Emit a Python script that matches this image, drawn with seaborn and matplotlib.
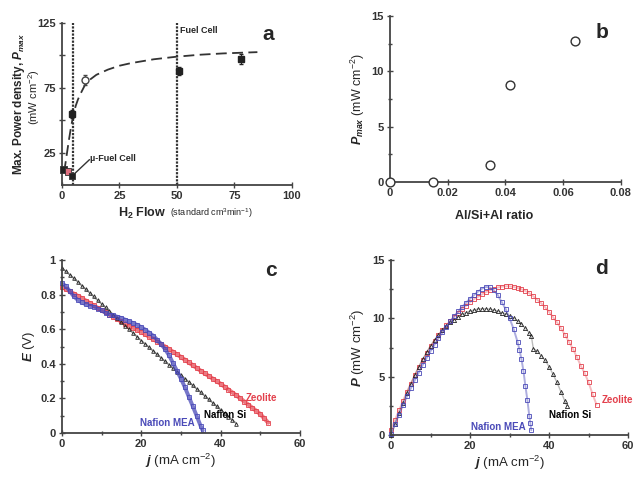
import numpy as np
import pandas as pd
import seaborn as sns
import matplotlib.pyplot as plt

sns.set_style('ticks')
plt.rcParams['font.family'] = ['Liberation Sans', 'DejaVu Sans']
plt.rcParams['mathtext.fontset'] = 'custom'
plt.rcParams['mathtext.rm'] = 'Liberation Sans'
plt.rcParams['mathtext.it'] = 'Liberation Sans:italic:bold'
plt.rcParams['mathtext.bf'] = 'Liberation Sans:bold'

RED = '#e3404c'
BLUE = '#4a4ab8'
BLACK = '#222222'

# --- panel a: max power density vs H2 flow
fit_flow = [1, 2, 3, 4, 5, 6, 7, 8, 10, 12, 15, 20, 25, 30, 40, 50, 60, 70, 85]
fit_pmax = [10, 22, 34, 45, 54, 61, 66, 70, 77, 81, 85, 89, 92, 94, 97, 99, 100.5, 101.5, 102.5]
fc_flow = [4.6, 50.9, 77.7]
fc_pmax = [55, 88, 97]
fc_err = [3, 3, 4]
open_flow = [10]
open_pmax = [81]
open_err = [4]
micro_flow = [0.6, 2.7, 4.4]
micro_pmax = [11.8, 10.5, 6.8]
micro_colors = [BLACK, '#e07080', BLACK]
leader_flow = [0.6, 4.4, 12]
leader_pmax = [11.8, 6.8, 19.5]
marker_lines = [5, 50]

# --- panel b: Pmax vs Al/(Si+Al)
al_ratio = [0.0, 0.0148, 0.0346, 0.0418, 0.0641]
pmax_b = [0.0, 0.0, 1.5, 8.8, 12.77]

# --- panel c: polarisation curves E(j)
j_si = list(range(0, 45))
E_si = [.955, .935, .915, .895, .875, .853, .832, .811, .79, .768, .747, .726, .705, .684, .663,
        .641, .62, .599, .578, .556, .535, .515, .495, .475, .455, .435, .415, .395, .375, .355,
        .335, .315, .295, .275, .255, .235, .215, .195, .175, .155, .135, .115, .095, .075, .055]
j_mea = list(range(0, 36)) + [35.5]
E_mea = [.865, .85, .82, .79, .77, .755, .745, .735, .73, .72, .71, .695, .685, .68, .672, .665,
         .655, .645, .635, .625, .612, .598, .58, .563, .54, .515, .485, .45, .405, .36, .315,
         .265, .21, .155, .098, .04, .015]
j_zeo = list(range(0, 53))
E_zeo = [.845, .832, .819, .806, .793, .78, .766, .752, .738, .724, .71, .697, .684, .671, .658,
         .645, .633, .621, .609, .597, .585, .571, .557, .543, .529, .515, .5, .485, .47, .455,
         .44, .424, .408, .392, .376, .36, .345, .33, .315, .3, .285, .268, .251, .234, .217, .2,
         .182, .164, .146, .128, .11, .085, .06]

# --- panel d: power curves P(j)
jd_si = list(range(0, 36)) + [35.5, 36, 37, 38, 39, 40, 41, 42, 43, 44, 44.5]
P_si = [0, .95, 1.85, 2.75, 3.6, 4.4, 5.15, 5.85, 6.5, 7.1, 7.65, 8.15, 8.6, 9.0, 9.35, 9.65,
        9.9, 10.15, 10.35, 10.5, 10.62, 10.72, 10.8, 10.82, 10.82, 10.78, 10.72, 10.62, 10.5,
        10.38, 10.22, 10.05, 9.8, 9.5, 9.15, 8.75, 8.5, 7.4, 7.2, 6.8, 6.4, 5.85, 5.2, 4.5,
        3.7, 2.9, 2.5]
jd_mea = list(range(0, 33)) + [32.5, 33, 33.5, 34, 34.5, 35, 35.25, 35.5]
P_mea = [.1, .9, 1.75, 2.55, 3.3, 4.0, 4.7, 5.35, 6.0, 6.6, 7.2, 7.75, 8.3, 8.8, 9.3, 9.75,
         10.2, 10.6, 11.0, 11.35, 11.7, 12.0, 12.3, 12.55, 12.7, 12.65, 12.4, 12.0, 11.4, 10.8,
         10.0, 9.1, 8.0, 7.3, 6.5, 5.5, 4.2, 3.0, 1.6, 1.0, 0.4]
jd_zeo = list(range(0, 53))
P_zeo = [.45, 1.3, 2.1, 2.9, 3.7, 4.4, 5.1, 5.8, 6.4, 7.0, 7.6, 8.1, 8.6, 9.0, 9.4, 9.8, 10.15,
         10.5, 10.8, 11.1, 11.4, 11.65, 11.85, 12.05, 12.25, 12.4, 12.55, 12.65, 12.72, 12.75,
         12.75, 12.7, 12.6, 12.5, 12.35, 12.15, 11.9, 11.6, 11.3, 10.95, 10.55, 10.1, 9.65,
         9.15, 8.6, 8.0, 7.4, 6.7, 5.95, 5.3, 4.5, 3.5, 2.6]

fig = plt.figure(figsize=(6.38, 4.79), dpi=100)
ax_a = fig.add_axes([0.097, 0.614, 0.3605, 0.338])
ax_b = fig.add_axes([0.611, 0.620, 0.362, 0.3466])
ax_c = fig.add_axes([0.097, 0.096, 0.373, 0.361])
ax_d = fig.add_axes([0.613, 0.092, 0.3715, 0.365])


def style_axes(ax):
    sns.despine(ax=ax)
    for s in ['left', 'bottom']:
        ax.spines[s].set_color('#444444')
        ax.spines[s].set_linewidth(1.3)
    ax.tick_params(which='both', direction='inout', color='#444444', labelsize=8,
                   width=1, pad=2)
    ax.tick_params(which='major', length=5)
    ax.tick_params(which='minor', length=3)
    for lab in ax.get_xticklabels() + ax.get_yticklabels():
        lab.set_fontweight('bold')
        lab.set_color('#333333')


def curve(ax, x, y, color, marker, lw, ms, alpha):
    # a soft band under the open markers, like the densely sampled original
    sns.lineplot(x=x, y=y, ax=ax, color=color, linewidth=lw, alpha=alpha,
                 sort=False, estimator=None)
    sns.lineplot(x=x, y=y, ax=ax, color=color, marker=marker, linewidth=0,
                 markersize=ms, markerfacecolor='none', markeredgecolor=color,
                 markeredgewidth=0.6, sort=False, estimator=None, clip_on=False)


# panel a
for xv in marker_lines:
    ax_a.axvline(xv, color='#333333', lw=1.6, ls=(0, (1, 0.6)), zorder=1)
sns.lineplot(x=fit_flow, y=fit_pmax, ax=ax_a, color='#333333', lw=1.3,
             linestyle=(0, (6, 3)), sort=False, estimator=None)
sns.lineplot(x=leader_flow, y=leader_pmax, ax=ax_a, color='#333333', lw=1.0,
             sort=False, estimator=None)
ax_a.errorbar(fc_flow, fc_pmax, yerr=fc_err, fmt='s', color='#222222', ms=4.5,
              capsize=1.5, elinewidth=0.8, zorder=4)
ax_a.errorbar(open_flow, open_pmax, yerr=open_err, fmt='o', color='#444444', mfc='white',
              ms=5, capsize=1.5, elinewidth=0.8, zorder=4)
sns.scatterplot(x=micro_flow, y=micro_pmax, ax=ax_a, marker='s', s=22,
                color=micro_colors, edgecolor='#333333', linewidth=0.6, zorder=5, clip_on=False)
ax_a.text(51.5, 119, 'Fuel Cell', fontsize=6.5, fontweight='bold', va='center')
ax_a.text(12.3, 20, '\u00b5-Fuel Cell', fontsize=6.5, fontweight='bold', va='center')
ax_a.set_xlim(0, 100)
ax_a.set_ylim(0, 125)
ax_a.set_xticks([0, 25, 50, 75, 100])
ax_a.set_yticks([25, 50, 75, 100, 125])
ax_a.set_yticklabels(['25', '', '75', '', '125'])
ax_a.set_xlabel('')
ax_a.set_ylabel('')
ax_a.text(-0.185, 0.5, r'Max. Power density, $\mathit{P}_{\mathit{max}}$', transform=ax_a.transAxes,
          rotation=90, ha='center', va='center', fontsize=8.5, fontweight='bold')
ax_a.text(-0.12, 0.54, r'(mW cm$^{-2}$)', transform=ax_a.transAxes,
          rotation=90, ha='center', va='center', fontsize=8)
ax_a.text(0.455, -0.175, r'H$\mathbf{_2}$ Flow', transform=ax_a.transAxes, ha='right', va='center',
          fontsize=9, fontweight='bold')
ax_a.text(0.47, -0.175, r'(standard cm$^3$min$^{-1}$)', transform=ax_a.transAxes, ha='left',
          va='center', fontsize=6.5)
ax_a.text(0.896, 0.93, 'a', transform=ax_a.transAxes, fontsize=15, fontweight='bold',
          ha='center', va='center')
style_axes(ax_a)

# panel b
sns.scatterplot(x=al_ratio, y=pmax_b, ax=ax_b, marker='o', s=40, facecolor='white',
                edgecolor='#333333', linewidth=1.0, zorder=5, clip_on=False)
ax_b.set_xlim(0, 0.08)
ax_b.set_ylim(0, 15)
ax_b.set_xticks([0, 0.02, 0.04, 0.06, 0.08])
ax_b.set_xticklabels(['0', '0.02', '0.04', '0.06', '0.08'])
ax_b.set_yticks([0, 5, 10, 15])
ax_b.set_yticks([2.5, 7.5, 12.5], minor=True)
ax_b.set_ylabel(r'$\mathit{P}_{\mathit{max}}$ (mW cm$^{-2}$)', fontsize=9, labelpad=3)
ax_b.set_xlabel('Al/Si+Al ratio', fontsize=9, fontweight='bold', labelpad=4)
ax_b.xaxis.set_label_coords(0.45, -0.17)
ax_b.text(0.918, 0.9, 'b', transform=ax_b.transAxes, fontsize=15, fontweight='bold',
          ha='center', va='center')
style_axes(ax_b)

# panel c
curve(ax_c, j_zeo, E_zeo, RED, 's', 3.0, 2.4, 0.7)
curve(ax_c, j_si, E_si, BLACK, '^', 1.2, 2.6, 0.45)
curve(ax_c, j_mea, E_mea, BLUE, 's', 2.8, 2.2, 0.75)
ax_c.text(50.4, 0.205, 'Zeolite', color=RED, fontsize=7, fontweight='bold', ha='center', va='center')
ax_c.text(41.2, 0.105, 'Nafion Si', color='black', fontsize=7, fontweight='bold', ha='center', va='center')
ax_c.text(26.6, 0.058, 'Nafion MEA', color=BLUE, fontsize=7, fontweight='bold', ha='center', va='center')
ax_c.set_xlim(0, 60)
ax_c.set_ylim(0, 1)
ax_c.set_xticks([0, 20, 40, 60])
ax_c.set_xticks([10, 30, 50], minor=True)
ax_c.set_yticks([0, 0.2, 0.4, 0.6, 0.8, 1.0])
ax_c.set_yticklabels(['0', '0.2', '0.4', '0.6', '0.8', '1'])
ax_c.set_yticks([0.1, 0.3, 0.5, 0.7, 0.9], minor=True)
ax_c.set_ylabel(r'$\mathit{E}$ (V)', fontsize=9.5, labelpad=2)
ax_c.set_xlabel(r'$\mathit{j}$ (mA cm$^{-2}$)', fontsize=9.5, labelpad=2)
ax_c.text(0.88, 0.94, 'c', transform=ax_c.transAxes, fontsize=15, fontweight='bold',
          ha='center', va='center')
style_axes(ax_c)

# panel d
curve(ax_d, jd_zeo, P_zeo, RED, 's', 1.4, 3.0, 0.35)
curve(ax_d, jd_si, P_si, BLACK, '^', 1.0, 3.0, 0.3)
curve(ax_d, jd_mea, P_mea, BLUE, 's', 1.4, 3.0, 0.45)
ax_d.text(57.2, 3.0, 'Zeolite', color=RED, fontsize=7, fontweight='bold', ha='center', va='center')
ax_d.text(45.3, 1.7, 'Nafion Si', color='black', fontsize=7, fontweight='bold', ha='center', va='center')
ax_d.text(27.1, 0.7, 'Nafion MEA', color=BLUE, fontsize=7, fontweight='bold', ha='center', va='center')
ax_d.set_xlim(0, 60)
ax_d.set_ylim(0, 15)
ax_d.set_xticks([0, 20, 40, 60])
ax_d.set_xticks([10, 30, 50], minor=True)
ax_d.set_yticks([0, 5, 10, 15])
ax_d.set_yticks([2.5, 7.5, 12.5], minor=True)
ax_d.set_ylabel(r'$\mathit{P}$ (mW cm$^{-2}$)', fontsize=9.5, labelpad=4)
ax_d.set_xlabel(r'$\mathit{j}$ (mA cm$^{-2}$)', fontsize=9.5, labelpad=2)
ax_d.text(0.886, 0.954, 'd', transform=ax_d.transAxes, fontsize=15, fontweight='bold',
          ha='center', va='center')
style_axes(ax_d)

fig.savefig('out.png', dpi=100)
